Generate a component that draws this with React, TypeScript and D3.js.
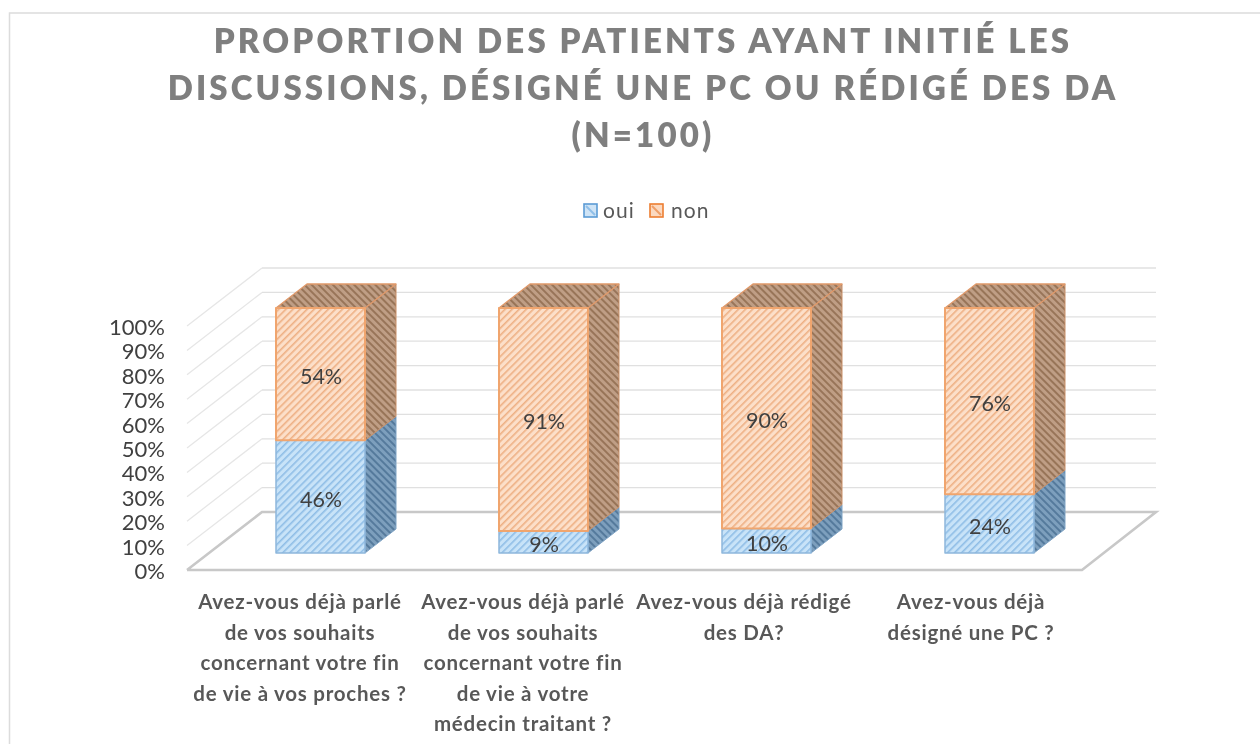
import React from "react";
import * as d3 from "d3";

const categories = [
  ["Avez-vous déjà parlé", "de vos souhaits", "concernant votre fin", "de vie à vos proches ?"],
  ["Avez-vous déjà parlé", "de vos souhaits", "concernant votre fin", "de vie à votre", "médecin traitant ?"],
  ["Avez-vous déjà rédigé", "des DA?"],
  ["Avez-vous déjà", "désigné une PC ?"],
];
const oui = [46, 9, 10, 24];
const non = [54, 91, 90, 76];
const ticks = [0, 10, 20, 30, 40, 50, 60, 70, 80, 90, 100];
const titleLines = [
  "PROPORTION DES PATIENTS AYANT INITIÉ LES",
  "DISCUSSIONS, DÉSIGNÉ UNE PC OU RÉDIGÉ DES DA",
  "(N=100)",
];

const font = "Lato, 'Open Sans', sans-serif";
const wallY = d3.scaleLinear().domain([0, 100]).range([570, 326]);
const barY = d3.scaleLinear().domain([0, 100]).range([553, 308]);
const bx = (i: number) => 276 + i * 223;
const bw = 89;
const dx = 31;
const dy = -24;
const wallDx = 75;
const wallDy = -58;

const colors = {
  oui: { light: "#c8e3f8", hatch: "#8fbde6", edge: "#8db7dc", sideBg: "#7d9fbd", sideH: "#557a9c" },
  non: { light: "#fcdfc9", hatch: "#eeb084", edge: "#f0a56e", sideBg: "#bf9e85", sideH: "#987459" },
};

function pts(a: number[][]) {
  return a.map((p) => p.join(",")).join(" ");
}

export default function App() {
  return (
    <svg width={1260} height={744} style={{ position: "absolute", left: 0, top: 0 }}>
      <defs>
        {(["oui", "non"] as const).map((k) => (
          <React.Fragment key={k}>
            <pattern id={`f-${k}`} width={5} height={5} patternUnits="userSpaceOnUse" patternTransform="rotate(-45)">
              <rect width={5} height={5} fill={colors[k].light} />
              <rect width={5} height={1.6} fill={colors[k].hatch} />
            </pattern>
            <pattern id={`s-${k}`} width={5} height={5} patternUnits="userSpaceOnUse" patternTransform="rotate(45)">
              <rect width={5} height={5} fill={colors[k].sideBg} />
              <rect width={5} height={2} fill={colors[k].sideH} />
            </pattern>
          </React.Fragment>
        ))}
        <filter id="soft" x="-2%" y="-2%" width="104%" height="104%">
          <feGaussianBlur stdDeviation="0.6" />
        </filter>
      </defs>
      <rect width={1260} height={744} fill="#fff" />
      <g filter="url(#soft)">
        <rect x={9.5} y={13} width={1260} height={760} fill="#fff" stroke="#dcdcdc" strokeWidth={1.5} />
        {titleLines.map((t, i) => (
          <text key={i} x={643} y={53 + i * 47} textAnchor="middle" fontFamily={font} fontWeight={800} fontSize={33} letterSpacing={3.15} fill="#7f7f7f">
            {t}
          </text>
        ))}
        {/* legend */}
        <rect x={584} y={204} width={13} height={13} fill="#cfe4f6" stroke="#5b9bd5" strokeWidth={1.6} />
        <line x1={586} y1={206} x2={595} y2={215} stroke="#8fbfe8" strokeWidth={2} />
        <text x={603} y={218} fontFamily={font} fontSize={21} letterSpacing={1.1} fill="#595959">oui</text>
        <rect x={650} y={204} width={13} height={13} fill="#fbd9c0" stroke="#ed7d31" strokeWidth={1.6} />
        <line x1={652} y1={206} x2={661} y2={215} stroke="#ee9f68" strokeWidth={2} />
        <text x={671} y={218} fontFamily={font} fontSize={21} letterSpacing={1.1} fill="#595959">non</text>

        {/* walls */}
        {ticks.map((t) => (
          <g key={t} fill="none" stroke="#e0e0e0" strokeWidth={1.3}>
            {t > 0 && <line x1={187} y1={wallY(t)} x2={187 + wallDx} y2={wallY(t) + wallDy} stroke="#e6e6e6" />}
            {t > 0 && <line x1={187 + wallDx} y1={wallY(t) + wallDy} x2={1156} y2={wallY(t) + wallDy} />}
          </g>
        ))}
        <polyline
          points={pts([[187, 570], [262, 512], [1156, 512], [1082, 570], [187, 570]])}
          fill="none"
          stroke="#c8c8c8"
          strokeWidth={2.6}
        />
        {ticks.map((t) => (
          <text key={t} x={165} y={wallY(t) + 9} textAnchor="end" fontFamily={font} fontSize={22} fill="#404040">
            {t}%
          </text>
        ))}

        {/* bars */}
        {oui.map((o, i) => {
          const x = bx(i);
          const mid = barY(o);
          const base = barY(0);
          const top = barY(100);
          return (
            <g key={i} strokeLinejoin="round">
              <polygon points={pts([[x + bw, mid], [x + bw + dx, mid + dy], [x + bw + dx, base + dy], [x + bw, base]])} fill="url(#s-oui)" stroke="#7fa3c4" strokeWidth={1} />
              <polygon points={pts([[x + bw, top], [x + bw + dx, top + dy], [x + bw + dx, mid + dy], [x + bw, mid]])} fill="url(#s-non)" stroke="#c98f66" strokeWidth={1} />
              <polygon points={pts([[x, top], [x + dx, top + dy], [x + bw + dx, top + dy], [x + bw, top]])} fill="url(#s-non)" stroke="#e0996a" strokeWidth={1.3} />
              <rect x={x} y={mid} width={bw} height={base - mid} fill="url(#f-oui)" stroke={colors.oui.edge} strokeWidth={1.5} />
              <rect x={x} y={top} width={bw} height={mid - top} fill="url(#f-non)" stroke={colors.non.edge} strokeWidth={2} />
              <text x={x + bw / 2 + 0.5} y={(mid + base) / 2 + 10} textAnchor="middle" fontFamily={font} fontSize={21.5} fill="#404040">{o}%</text>
              <text x={x + bw / 2 + 0.5} y={(top + mid) / 2 + 10} textAnchor="middle" fontFamily={font} fontSize={21.5} fill="#404040">{non[i]}%</text>
            </g>
          );
        })}

        {/* category labels */}
        {categories.map((lines, i) => {
          const cx = [300, 523, 744, 971][i];
          return lines.map((l, j) => (
            <text key={j} x={cx} y={609 + j * 30.5} textAnchor="middle" fontFamily={font} fontWeight={700} fontSize={20.5} letterSpacing={0.75} fill="#595959">
              {l}
            </text>
          ));
        })}
      </g>
    </svg>
  );
}
